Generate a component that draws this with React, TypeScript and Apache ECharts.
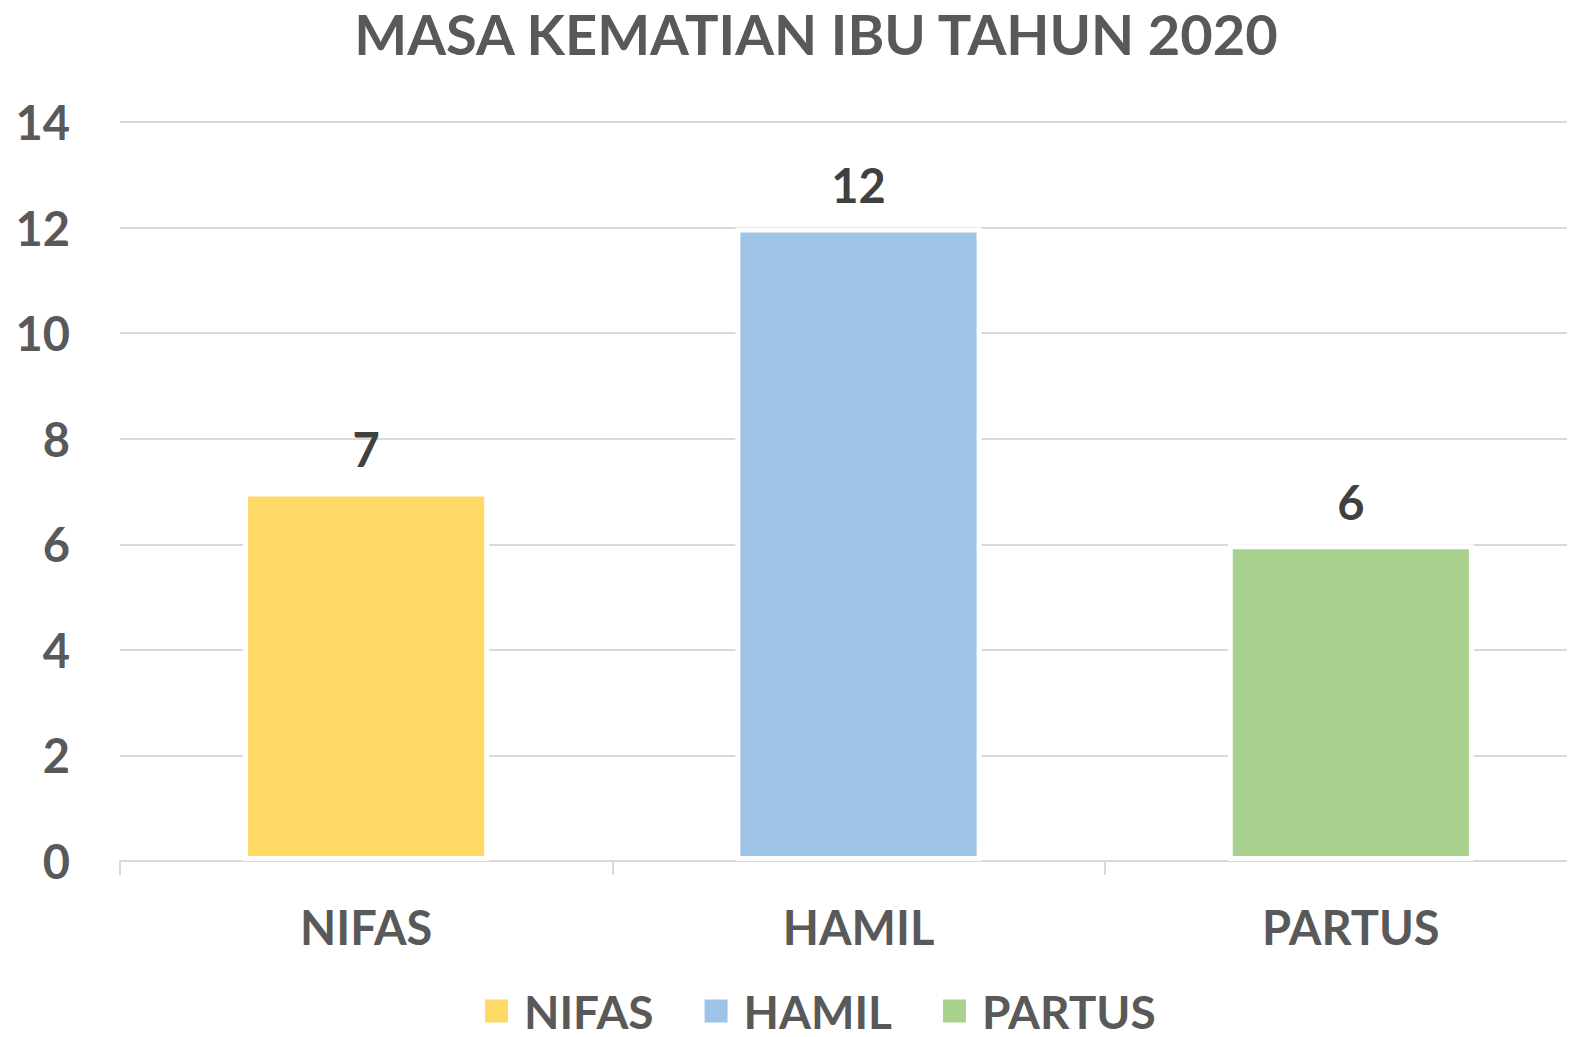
import React, { useEffect, useRef } from "react";
import * as echarts from "echarts";

const titleText = "MASA KEMATIAN IBU TAHUN 2020";
const categories = ["NIFAS", "HAMIL", "PARTUS"];
const values = [7, 12, 6];
const colors = ["#FFD966", "#9DC3E6", "#A9D18E"];
const yTicks = { min: 0, max: 14, interval: 2 };

const FONT = "Lato";
const TEXT = "#595959";

export default function App() {
  const ref = useRef<HTMLDivElement>(null);
  useEffect(() => {
    if (!ref.current) return;
    const chart = echarts.init(ref.current, undefined, { renderer: "svg" });
    const series = categories.map((name, i) => ({
      name,
      type: "bar",
      stack: "all",
      barWidth: "50%",
      data: categories.map((_, j) => (j === i ? values[i] : "-")),
      itemStyle: { color: colors[i], borderColor: "#ffffff", borderWidth: 5 },
      label: {
        show: true,
        position: "top",
        distance: 19,
        color: "#404040",
        fontFamily: FONT,
        fontWeight: "bold",
        fontSize: 47,
      },
    }));
    chart.setOption({
      animation: false,
      backgroundColor: "#ffffff",
      title: {
        text: titleText,
        left: 811,
        textAlign: "center",
        top: 0,
        textStyle: { color: TEXT, fontFamily: FONT, fontWeight: "bold", fontSize: 56 },
      },
      legend: {
        data: categories,
        top: 988,
        left: 483,
        padding: 0,
        itemWidth: 25,
        itemHeight: 25,
        itemGap: 49,
        icon: "rect",
        textStyle: {
          color: TEXT,
          fontFamily: FONT,
          fontWeight: "bold",
          fontSize: 46,
          lineHeight: 40,
          padding: [0, 0, 0, 10],
        },
      },
      grid: {
        left: 120,
        width: 1477,
        top: 122,
        bottom: 176,
        containLabel: false,
        outerBoundsMode: "none",
      },
      xAxis: {
        type: "category",
        data: categories,
        axisLine: { lineStyle: { color: "#D9D9D9", width: 2 } },
        axisTick: { show: true, length: 14, lineStyle: { color: "#D9D9D9", width: 2 } },
        axisLabel: { color: TEXT, fontFamily: FONT, fontWeight: "bold", fontSize: 47, margin: 42 },
      },
      yAxis: {
        type: "value",
        min: yTicks.min,
        max: yTicks.max,
        interval: yTicks.interval,
        axisLine: { show: false },
        axisTick: { show: false },
        splitLine: { lineStyle: { color: "#D9D9D9", width: 2 } },
        axisLabel: { color: TEXT, fontFamily: FONT, fontWeight: "bold", fontSize: 47, margin: 50 },
      },
      series,
    });
    return () => chart.dispose();
  }, []);
  return <div ref={ref} style={{ width: 1575, height: 1037, margin: -8 }} />;
}
